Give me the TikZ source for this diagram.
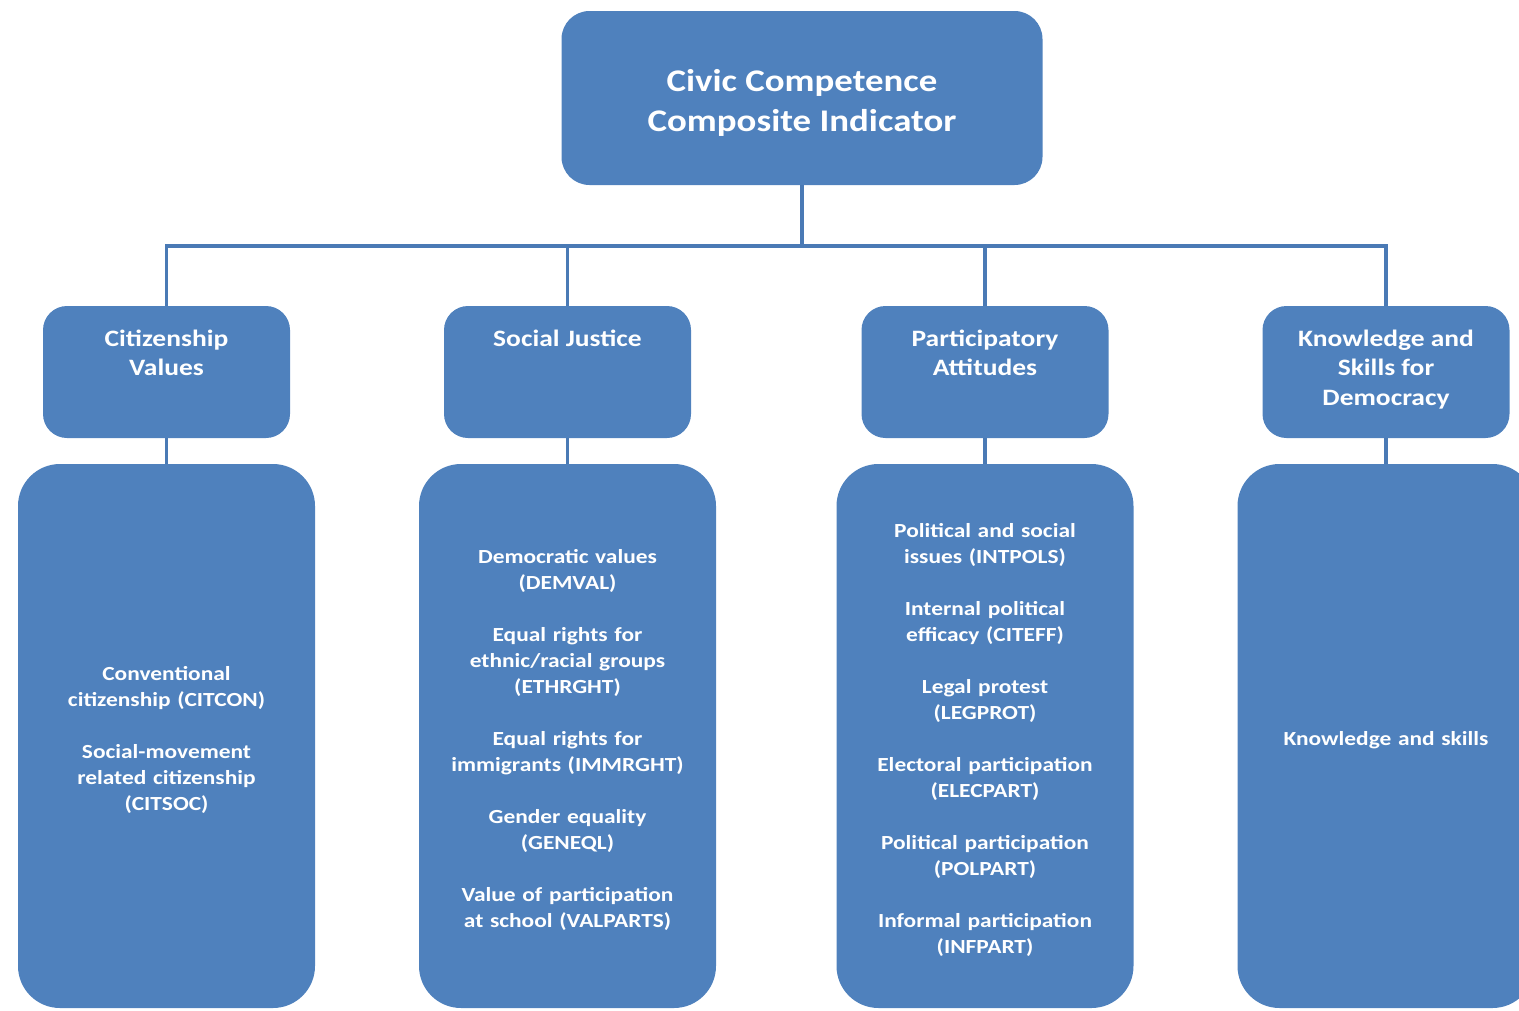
\documentclass[tikz,border=0pt]{standalone}
\usepackage{fontspec}
\setmainfont{Carlito}[FakeStretch=1.17]
\definecolor{boxblue}{HTML}{4F81BD}
\definecolor{lineblue}{HTML}{4A7AB5}

\tikzset{
  box/.style={fill=boxblue, text=white, inner sep=0pt},
  topbox/.style={box, rounded corners=28pt, minimum width=481pt, minimum height=174pt, align=center, font=\fontsize{31.5}{40}\selectfont\bfseries},
  catbox/.style={box, rounded corners=24pt, minimum width=247pt, minimum height=132pt, font=\fontsize{23.5}{29.5}\selectfont\bfseries},
  listbox/.style={box, rounded corners=42pt, minimum width=297pt, minimum height=544pt, text width=285pt, align=center, font=\fontsize{20}{26}\selectfont\bfseries},
  link/.style={draw=lineblue, line width=3.8pt},
}
\newcommand{\cattext}[1]{\parbox[c][132pt][t]{240pt}{\centering\rule{0pt}{40pt}#1}}

\begin{document}
\begin{tikzpicture}[x=1pt,y=-1pt]
  \useasboundingbox (0,0) rectangle (1519,1010);
  \clip (0,0) rectangle (1519,1010);
  % top
  \node[topbox] (cci) at (802,98) {\rule{0pt}{32pt}Civic Competence\\Composite Indicator};
  % categories
  \node[catbox] (cv) at (166.5,372) {\cattext{Citizenship\\Values}};
  \node[catbox] (sj) at (567.5,372) {\cattext{Social Justice}};
  \node[catbox] (pa) at (985,372) {\cattext{Participatory\\Attitudes}};
  \node[catbox] (ks) at (1386,372) {\cattext{Knowledge and\\Skills for\\Democracy}};
  % scales
  \node[listbox] (cv-list) at (166.5,736) {\rule{0pt}{22pt}Conventional\\citizenship (CITCON)\\[26pt]
    Social-movement\\related citizenship\\(CITSOC)};
  \node[listbox] (sj-list) at (567.5,736) {\rule{0pt}{22pt}Democratic values\\(DEMVAL)\\[26pt]
    Equal rights for\\ethnic/racial groups\\(ETHRGHT)\\[26pt]
    Equal rights for\\immigrants (IMMRGHT)\\[26pt]
    Gender equality\\(GENEQL)\\[26pt]
    Value of participation\\at school (VALPARTS)};
  \node[listbox] (pa-list) at (985,736) {\rule{0pt}{22pt}Political and social\\issues (INTPOLS)\\[26pt]
    Internal political\\efficacy (CITEFF)\\[26pt]
    Legal protest\\(LEGPROT)\\[26pt]
    Electoral participation\\(ELECPART)\\[26pt]
    Political participation\\(POLPART)\\[26pt]
    Informal participation\\(INFPART)};
  \node[listbox] (ks-list) at (1386,736) {\rule{0pt}{22pt}Knowledge and skills};
  % connectors
  \coordinate (bus) at (cci.south |- 0,246);
  \draw[link] (cci.south) -- (bus);
  \foreach \n in {cv,sj,pa,ks} {
    \draw[link] (\n.north) |- (bus);
    \draw[link] (\n.south) -- (\n-list.north);
  }
\end{tikzpicture}
\end{document}
